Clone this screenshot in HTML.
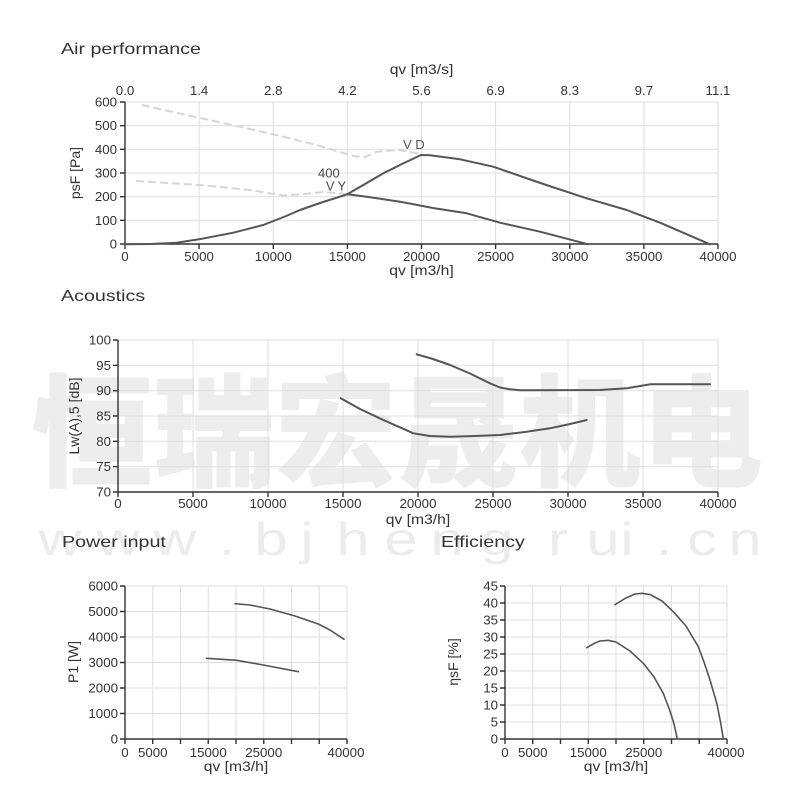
<!DOCTYPE html>
<html><head><meta charset="utf-8"><style>
html,body{margin:0;padding:0;background:#fff;}
svg{display:block;}
text{font-family:"Liberation Sans",Arial,sans-serif;fill:#333;}
.g{stroke:#dfdfdf;stroke-width:1;fill:none;}
.ax{stroke:#333;stroke-width:1.4;fill:none;}
.c{stroke:#555;stroke-width:2;fill:none;stroke-linejoin:round;stroke-linecap:round;}
.d{stroke:#d6d6d6;stroke-width:2;fill:none;stroke-dasharray:8 4;}
.t{font-size:13.3px;}
.wm{font-family:"Liberation Sans","Noto Sans CJK SC",sans-serif;fill:#ececec;}
</style></head><body>
<svg width="800" height="800" viewBox="0 0 800 800" xmlns="http://www.w3.org/2000/svg">
<!-- watermark -->
<text x="31" y="477" font-size="122" font-weight="900" style="font-family:'Noto Sans CJK SC','WenQuanYi Zen Hei',sans-serif;fill:#ededed">恒瑞宏晟机电</text>
<g font-size="46" text-anchor="middle">
<text transform="translate(60,555) scale(1.3,1)" class="wm">w</text>
<text transform="translate(118,555) scale(1.3,1)" class="wm">w</text>
<text transform="translate(175,555) scale(1.3,1)" class="wm">w</text>
<text transform="translate(227,555) scale(1.3,1)" class="wm">.</text>
<text transform="translate(271,555) scale(1.3,1)" class="wm">b</text>
<text transform="translate(307,555) scale(1.3,1)" class="wm">j</text>
<text transform="translate(353,555) scale(1.3,1)" class="wm">h</text>
<text transform="translate(401,555) scale(1.3,1)" class="wm">e</text>
<text transform="translate(447,555) scale(1.3,1)" class="wm">n</text>
<text transform="translate(497,555) scale(1.3,1)" class="wm">g</text>
<text transform="translate(558,555) scale(1.3,1)" class="wm">r</text>
<text transform="translate(603,555) scale(1.3,1)" class="wm">u</text>
<text transform="translate(627,555) scale(1.3,1)" class="wm">i</text>
<text transform="translate(664,555) scale(1.3,1)" class="wm">.</text>
<text transform="translate(702,555) scale(1.3,1)" class="wm">c</text>
<text transform="translate(745,555) scale(1.3,1)" class="wm">n</text>
</g>

<!-- ============ AIR PERFORMANCE ============ -->
<text transform="translate(61,54) scale(1.23,1)" font-size="16">Air performance</text>
<text transform="translate(421.5,74) scale(1.12,1)" font-size="14" text-anchor="middle">qv [m3/s]</text>
<g class="g">
<path d="M199.1 102V244M273.3 102V244M347.4 102V244M421.5 102V244M495.6 102V244M569.8 102V244M643.9 102V244M718 102V244"/>
<path d="M125 102H718M125 125.7H718M125 149.3H718M125 173H718M125 196.7H718M125 220.3H718"/>
</g>
<path class="ax" d="M125 102V244H718M120 102H125M120 125.7H125M120 149.3H125M120 173H125M120 196.7H125M120 220.3H125M120 244H125M125 244V249M199.1 244V249M273.3 244V249M347.4 244V249M421.5 244V249M495.6 244V249M569.8 244V249M643.9 244V249M718 244V249"/>
<g class="t" text-anchor="end">
<text x="117" y="106.5">600</text><text x="117" y="130">500</text><text x="117" y="154">400</text>
<text x="117" y="177.5">300</text><text x="117" y="201">200</text><text x="117" y="225">100</text><text x="117" y="248.5">0</text>
</g>
<g class="t" text-anchor="middle">
<text x="125" y="95">0.0</text><text x="199.1" y="95">1.4</text><text x="273.3" y="95">2.8</text><text x="347.4" y="95">4.2</text>
<text x="421.5" y="95">5.6</text><text x="495.6" y="95">6.9</text><text x="569.8" y="95">8.3</text><text x="643.9" y="95">9.7</text><text x="718" y="95">11.1</text>
<text x="125" y="261">0</text><text x="199.1" y="261">5000</text><text x="273.3" y="261">10000</text><text x="347.4" y="261">15000</text>
<text x="421.5" y="261">20000</text><text x="495.6" y="261">25000</text><text x="569.8" y="261">30000</text><text x="643.9" y="261">35000</text><text x="718" y="261">40000</text>
</g>
<text transform="translate(421.5,275) scale(1.12,1)" font-size="14" text-anchor="middle">qv [m3/h]</text>
<text transform="translate(80,173) rotate(-90)" font-size="14" text-anchor="middle">psF [Pa]</text>
<polyline class="d" points="141.7,105 200,118 250,129 290,138.3 320,146 353.3,156 365,157 376.7,151.7 400,150 420,154"/>
<polyline class="d" points="136,181 200,185 250,190 283.3,195.5 300,194.5 323.3,192 347,194"/>
<polyline class="c" points="125,244.3 150,244 176.7,242.7 199,239.3 233.3,232.7 263.3,225 285,216.5 300,210 320,203 347.3,194.3 365,184 383.3,173.3 402,164 421,155"/>
<polyline class="c" points="347.3,194.3 366.7,196.7 400,201.7 433,208 466.7,213.3 500,222.7 540,231.7 588.3,244.3"/>
<polyline class="c" points="421,155 430,155.3 460,159.3 493.3,166.7 543.3,184 586.7,198.3 626.7,210 660,222.7 710,244.3"/>
<text x="403" y="149" font-size="13" style="fill:#555">V D</text>
<text x="318" y="177.5" font-size="13" style="fill:#444">400</text>
<text x="326" y="190.5" font-size="12.5" style="fill:#444">V Y</text>

<!-- ============ ACOUSTICS ============ -->
<text transform="translate(61,301) scale(1.23,1)" font-size="16">Acoustics</text>
<g class="g">
<path d="M193 340V492M268 340V492M343 340V492M418 340V492M493 340V492M568 340V492M643 340V492M718 340V492"/>
<path d="M118 340H718M118 365.3H718M118 390.7H718M118 416H718M118 441.3H718M118 466.7H718"/>
</g>
<path class="ax" d="M118 340V492H718M113 340H118M113 365.3H118M113 390.7H118M113 416H118M113 441.3H118M113 466.7H118M113 492H118M118 492V497M193 492V497M268 492V497M343 492V497M418 492V497M493 492V497M568 492V497M643 492V497M718 492V497"/>
<g class="t" text-anchor="end">
<text x="111" y="344.5">100</text><text x="111" y="370">95</text><text x="111" y="395">90</text><text x="111" y="420.5">85</text>
<text x="111" y="446">80</text><text x="111" y="471">75</text><text x="111" y="496.5">70</text>
</g>
<g class="t" text-anchor="middle">
<text x="118" y="508">0</text><text x="193" y="508">5000</text><text x="268" y="508">10000</text><text x="343" y="508">15000</text>
<text x="418" y="508">20000</text><text x="493" y="508">25000</text><text x="568" y="508">30000</text><text x="643" y="508">35000</text><text x="718" y="508">40000</text>
</g>
<text transform="translate(418,524) scale(1.12,1)" font-size="14" text-anchor="middle">qv [m3/h]</text>
<text transform="translate(79,416) rotate(-90)" font-size="14" text-anchor="middle">Lw(A),5 [dB]</text>
<polyline class="c" points="340.7,398.3 360,409 383.3,420 400,427.3 413.3,433.3 430,436 450,436.7 475,436 500,435 525,432 550,428.3 570,424 586.7,420"/>
<polyline class="c" points="416.7,354.3 433,359 450,365 470,373.5 490,383.3 500,387.5 510,389.3 520,390.2 533.3,390.3 600,390 626.7,388.3 640,386 650,384.3 710,384.3"/>

<!-- ============ POWER INPUT ============ -->
<text transform="translate(62,547) scale(1.23,1)" font-size="16">Power input</text>
<g class="g">
<path d="M152.75 586V739M180.5 586V739M208.25 586V739M236 586V739M263.75 586V739M291.5 586V739M319.25 586V739M347 586V739"/>
<path d="M125 586H347M125 611.5H347M125 637H347M125 662.5H347M125 688H347M125 713.5H347"/>
</g>
<path class="ax" d="M125 586V739H347M120 586H125M120 611.5H125M120 637H125M120 662.5H125M120 688H125M120 713.5H125M120 739H125M125 739V744M152.75 739V744M180.5 739V744M208.25 739V744M236 739V744M263.75 739V744M291.5 739V744M319.25 739V744M347 739V744"/>
<g class="t" text-anchor="end">
<text x="118" y="590.5">6000</text><text x="118" y="616">5000</text><text x="118" y="641.5">4000</text><text x="118" y="667">3000</text>
<text x="118" y="692.5">2000</text><text x="118" y="718">1000</text><text x="118" y="743.5">0</text>
</g>
<g class="t" text-anchor="middle">
<text x="125" y="757">0</text><text x="152.75" y="757">5000</text><text x="208.25" y="757">15000</text><text x="263.75" y="757">25000</text><text x="346" y="757">40000</text>
</g>
<text transform="translate(236,771) scale(1.12,1)" font-size="14" text-anchor="middle">qv [m3/h]</text>
<text transform="translate(78,662) rotate(-90)" font-size="14" text-anchor="middle">P1 [W]</text>
<polyline class="c" style="stroke-width:1.6" points="235,603.7 250,605 270,609 295,616 318.3,624 330,630 344,639.3"/>
<polyline class="c" style="stroke-width:1.6" points="206.7,658.3 236.7,660.3 263.3,665 298.3,671.7"/>

<!-- ============ EFFICIENCY ============ -->
<text transform="translate(441,547) scale(1.23,1)" font-size="16">Efficiency</text>
<g class="g">
<path d="M532.75 586V739M560.5 586V739M588.25 586V739M616 586V739M643.75 586V739M671.5 586V739M699.25 586V739M727 586V739"/>
<path d="M505 586H727M505 603H727M505 620H727M505 637H727M505 654H727M505 671H727M505 688H727M505 705H727M505 722H727"/>
</g>
<path class="ax" d="M505 586V739H727M500 586H505M500 603H505M500 620H505M500 637H505M500 654H505M500 671H505M500 688H505M500 705H505M500 722H505M500 739H505M505 739V744M532.75 739V744M560.5 739V744M588.25 739V744M616 739V744M643.75 739V744M671.5 739V744M699.25 739V744M727 739V744"/>
<g class="t" text-anchor="end">
<text x="498" y="590.5">45</text><text x="498" y="607.5">40</text><text x="498" y="624.5">35</text><text x="498" y="641.5">30</text><text x="498" y="658.5">25</text>
<text x="498" y="675.5">20</text><text x="498" y="692.5">15</text><text x="498" y="709.5">10</text><text x="498" y="726.5">5</text><text x="498" y="743.5">0</text>
</g>
<g class="t" text-anchor="middle">
<text x="505" y="757">0</text><text x="532.75" y="757">5000</text><text x="588.25" y="757">15000</text><text x="643.75" y="757">25000</text><text x="726" y="757">40000</text>
</g>
<text transform="translate(616,771) scale(1.12,1)" font-size="14" text-anchor="middle">qv [m3/h]</text>
<text transform="translate(458,662) rotate(-90)" font-size="14" text-anchor="middle">ηsF [%]</text>
<polyline class="c" style="stroke-width:1.6" points="615,604.7 625,598.5 635,594 641.7,593.3 650,594.5 662,601 673.3,611.7 686,626 698.3,646.7 704,662 710,680 716.7,703 720.5,722 723.3,738.7"/>
<polyline class="c" style="stroke-width:1.6" points="586.7,647.7 595,643 600,641 608.3,640.3 616,642 630,651 643.3,663.3 654,677 663.3,693.3 670,711 674,724 677.3,738.7"/>
</svg>
</body></html>
